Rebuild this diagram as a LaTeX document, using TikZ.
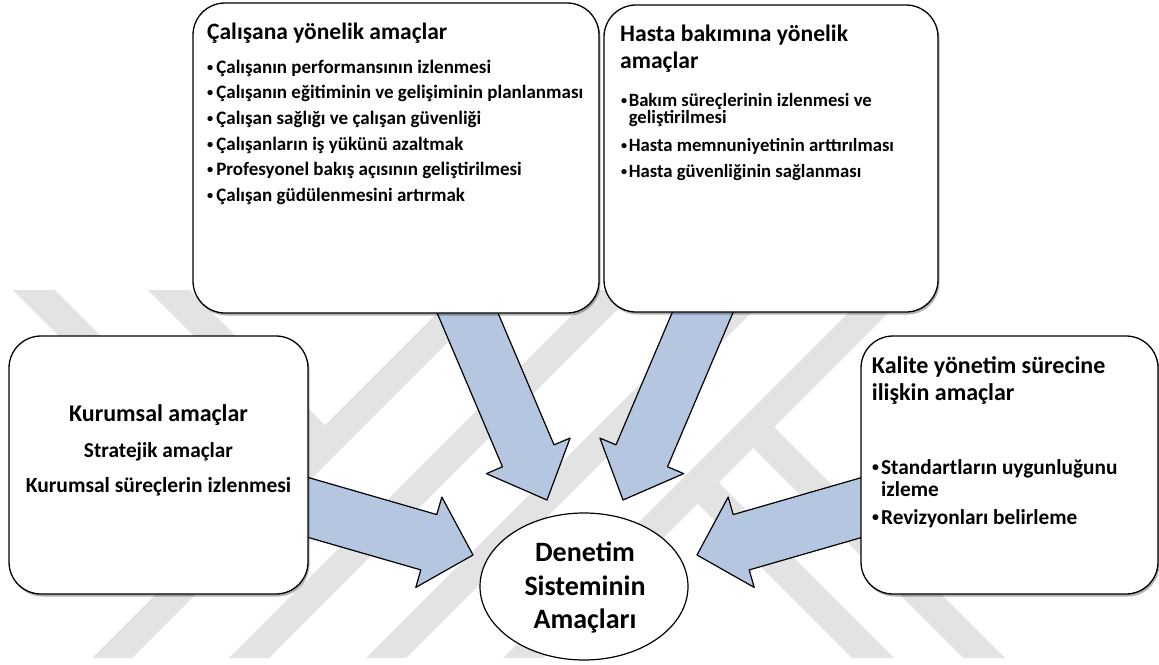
\documentclass[tikz,border=0pt]{standalone}
\usepackage{fontspec}
\setmainfont{Carlito}
\usetikzlibrary{shapes.geometric,shadows,calc}
\definecolor{wm}{RGB}{227,227,227}
\definecolor{arrowblue}{RGB}{181,198,224}
\newcommand\myfs[1]{\fontsize{#1}{#1}\selectfont}
\newcommand\bul{\raisebox{0.1em}{\scalebox{0.65}{•}}}
% block arrow: #1 start, #2 tip, #3 shaft half width, #4 head half width, #5 head length
\newcommand\blockarrow[5]{%
  \coordinate (ba0) at ($(#2)!#5!(#1)$);
  \draw[barrow] ($(#1)!#3!90:(#2)$) -- ($(ba0)!#3!90:(#2)$) -- ($(ba0)!#4!90:(#2)$) -- (#2)
     -- ($(ba0)!#4!-90:(#2)$) -- ($(ba0)!#3!-90:(#2)$) -- ($(#1)!#3!-90:(#2)$) -- cycle;}
\begin{document}
\begin{tikzpicture}[x=1pt,y=-1pt,
  box/.style={draw=black, line width=1.3pt, rounded corners=32pt, fill=white, inner sep=0pt,
     drop shadow={shadow xshift=1.5pt, shadow yshift=-2.5pt, opacity=0.3, fill=black}},
  barrow/.style={draw=black, line width=1.2pt, fill=arrowblue, line join=round},
  band/.style={fill=wm, draw=none},
  txt/.style={inner sep=0pt, font=\bfseries, text=black},
  ]
\useasboundingbox (0,0) rectangle (1159,664);
\fill[white] (0,0) rectangle (1159,664);
% ---------- watermark ----------
\fill[band] (460,290) -- (500,290) -- (132,658) -- (92,658) -- cycle;
\fill[band] (597,290) -- (637,290) -- (269,658) -- (229,658) -- cycle;
\fill[band] (734,290) -- (774,290) -- (406,658) -- (366,658) -- cycle;
\fill[band] (871,290) -- (911,290) -- (543,658) -- (503,658) -- cycle;
\fill[band] (13,290) -- (55,290) -- (267.5,502.5) -- (246.5,523.5) -- cycle;
\fill[band] (148,290) -- (190,290) -- (335,435) -- (314,456) -- cycle;
\fill[band] (687.5,493.5) -- (708.5,472.5) -- (894,658) -- (852,658) -- cycle;
\fill[band] (743,438) -- (764,417) -- (1005,658) -- (963,658) -- cycle;
% ---------- arrows ----------
\coordinate (s1) at (457.8,290);  \coordinate (t1) at (547,500);
\coordinate (s2) at (712.2,290);  \coordinate (t2) at (623,500);
\coordinate (s3) at (290,502.2);  \coordinate (t3) at (473,555);
\coordinate (s4) at (880,502.2);  \coordinate (t4) at (697,555);
\blockarrow{s1}{t1}{28pt}{45.5pt}{48pt}
\blockarrow{s2}{t2}{28pt}{45.5pt}{48pt}
\blockarrow{s3}{t3}{28.8pt}{47pt}{46pt}
\blockarrow{s4}{t4}{28.8pt}{47pt}{46pt}
% ---------- boxes ----------
\node[box, minimum width=406pt, minimum height=310pt] (cal) at (396,158) {};
\node[box, minimum width=334pt, minimum height=307pt] (has) at (771,158.5) {};
\node[box, minimum width=299pt, minimum height=258pt] (kur) at (158.5,465) {};
\node[box, minimum width=297pt, minimum height=258pt] (kal) at (1009.5,465) {};
\node[draw=black, line width=1.2pt, fill=white, ellipse, inner sep=0pt,
      minimum width=208pt, minimum height=147pt] (goal) at (584,586.5) {};
% ---------- texts ----------
\node[txt, anchor=base west, font=\bfseries\myfs{23.5}] (ct) at (207,39.5) {Çalışana yönelik amaçlar};
\foreach \t [count=\i] in {Çalışanın performansının izlenmesi,
  Çalışanın eğitiminin ve gelişiminin planlanması,
  Çalışan sağlığı ve çalışan güvenliği,
  Çalışanların iş yükünü azaltmak,
  Profesyonel bakış açısının geliştirilmesi,
  Çalışan güdülenmesini artırmak}
  \node[txt, anchor=base west, font=\bfseries\myfs{19}] (c\i) at (207,{73+25.7*(\i-1)}) {\bul\hspace{3pt}\t};

\node[txt, anchor=base west, font=\bfseries\myfs{23.6}] (ht1) at (620,41.7) {Hasta bakımına yönelik};
\node[txt, anchor=base west, font=\bfseries\myfs{23.6}] (ht2) at (620,68.3) {amaçlar};
\node[txt, anchor=base west, font=\bfseries\myfs{18.7}] (h1) at (621,106) {\bul\hspace{1.5pt}Bakım süreçlerinin izlenmesi ve};
\node[txt, anchor=base west, font=\bfseries\myfs{18.7}] (h1b) at (621,123.3) {\phantom{\bul\hspace{1.5pt}}geliştirilmesi};
\node[txt, anchor=base west, font=\bfseries\myfs{18.7}] (h2) at (621,151.7) {\bul\hspace{1.5pt}Hasta memnuniyetinin arttırılması};
\node[txt, anchor=base west, font=\bfseries\myfs{18.7}] (h3) at (621,177.3) {\bul\hspace{1.5pt}Hasta güvenliğinin sağlanması};

\node[txt, anchor=base, font=\bfseries\myfs{24}] (u1) at (158.5,421.7) {Kurumsal amaçlar};
\node[txt, anchor=base, font=\bfseries\myfs{21.3}] (u2) at (158.5,457.3) {Stratejik amaçlar};
\node[txt, anchor=base, font=\bfseries\myfs{21.5}] (u3) at (158.5,492.7) {Kurumsal süreçlerin izlenmesi};

\node[txt, anchor=base west, font=\bfseries\myfs{24}] (kt1) at (871.7,373.3) {Kalite yönetim sürecine};
\node[txt, anchor=base west, font=\bfseries\myfs{24}] (kt2) at (871.7,400) {ilişkin amaçlar};
\node[txt, anchor=base west, font=\bfseries\myfs{21.3}] (k1) at (872,474) {\bul\hspace{2pt}Standartların uygunluğunu};
\node[txt, anchor=base west, font=\bfseries\myfs{21.3}] (k1b) at (872,496.7) {\phantom{\bul\hspace{2pt}}izleme};
\node[txt, anchor=base west, font=\bfseries\myfs{21.3}] (k2) at (872,524) {\bul\hspace{2pt}Revizyonları belirleme};

\node[txt, anchor=base, font=\bfseries\myfs{28}] (g1) at (585,561.7) {Denetim};
\node[txt, anchor=base, font=\bfseries\myfs{28}] (g2) at (585,595) {Sisteminin};
\node[txt, anchor=base, font=\bfseries\myfs{28}] (g3) at (585,628.3) {Amaçları};
\end{tikzpicture}
\end{document}
